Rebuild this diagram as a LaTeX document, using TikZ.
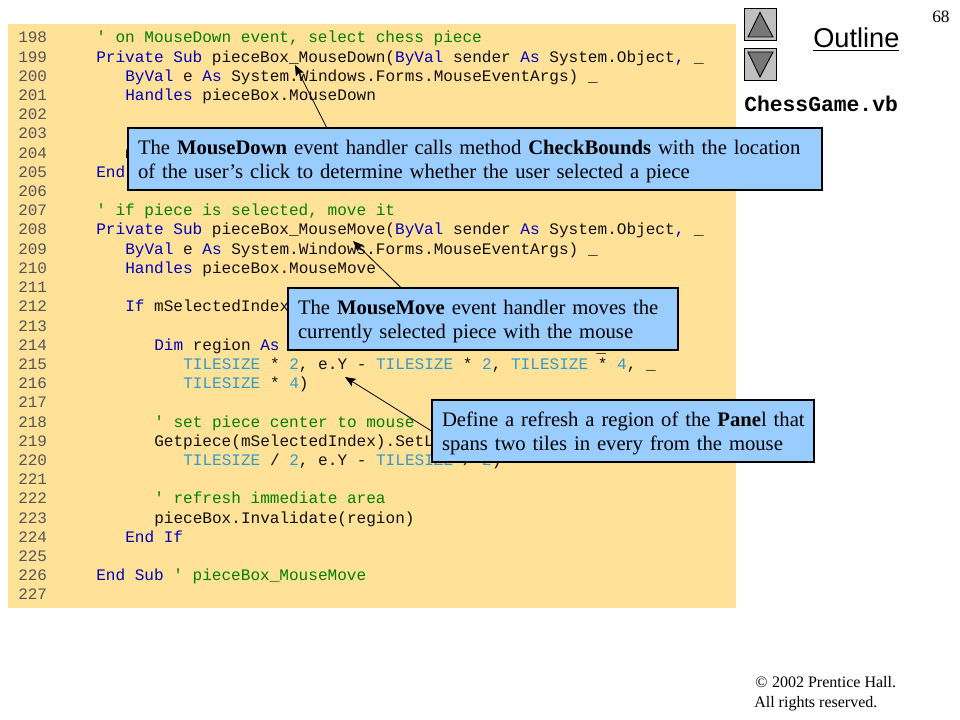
\documentclass[tikz,border=0pt]{standalone}
\usepackage{fontspec}
\setmainfont{Liberation Serif}
\setsansfont{Liberation Sans}
\setmonofont{Liberation Mono}
\usetikzlibrary{arrows.meta}
\definecolor{panel}{HTML}{FFE198}
\definecolor{callfill}{HTML}{99CCFF}
\definecolor{kw}{HTML}{0000BB}
\definecolor{cm}{HTML}{008000}
\definecolor{cn}{HTML}{3399CC}
\definecolor{numc}{HTML}{555555}
\definecolor{plainc}{HTML}{101010}
\definecolor{iconbg}{HTML}{C0C0C0}
\definecolor{icontri}{HTML}{777777}
\newcommand{\K}[1]{\textcolor{kw}{#1}}
\newcommand{\C}[1]{\textcolor{cm}{#1}}
\newcommand{\T}[1]{\textcolor{cn}{#1}}
\newcommand{\firstln}[1]{\mbox{\rule{0pt}{15pt}#1}}
\tikzset{
  x=0.75pt,y=-0.75pt,
  numlab/.style={anchor=base west,inner sep=0pt,text=numc,font=\ttfamily\fontsize{12}{14}\selectfont},
  codelab/.style={anchor=base west,inner sep=0pt,text=plainc,font=\ttfamily\fontsize{12.05}{14}\selectfont},
  callout/.style={draw=black,line width=0.8pt,fill=callfill,inner xsep=7.5pt,inner ysep=0pt,align=left,
    font=\rmfamily\fontsize{15.5}{18}\selectfont,text=black},
  pointer/.style={draw=black,line width=0.6pt,-{Stealth[length=8pt,width=6.5pt,inset=1.5pt]}},
  iconbox/.style={draw=black,line width=0.9pt,fill=iconbg},
  icontr/.style={draw=black,line width=0.7pt,fill=icontri},
  plaintext/.style={anchor=base west,inner sep=0pt,text=black}
}
\begin{document}
\begin{tikzpicture}
\useasboundingbox (0,0) rectangle (960,720);
\fill[panel] (8,24) rectangle (736,608);
% line numbers
\node[numlab] (n198) at (18,43) {198};
\node[numlab] (n199) at (18,62.2) {199};
\node[numlab] (n200) at (18,81.4) {200};
\node[numlab] (n201) at (18,100.6) {201};
\node[numlab] (n202) at (18,119.8) {202};
\node[numlab] (n203) at (18,139) {203};
\node[numlab] (n204) at (18,158.2) {204};
\node[numlab] (n205) at (18,177.4) {205};
\node[numlab] (n206) at (18,196.6) {206};
\node[numlab] (n207) at (18,215.8) {207};
\node[numlab] (n208) at (18,235) {208};
\node[numlab] (n209) at (18,254.2) {209};
\node[numlab] (n210) at (18,273.4) {210};
\node[numlab] (n211) at (18,292.6) {211};
\node[numlab] (n212) at (18,311.8) {212};
\node[numlab] (n213) at (18,331) {213};
\node[numlab] (n214) at (18,350.2) {214};
\node[numlab] (n215) at (18,369.4) {215};
\node[numlab] (n216) at (18,388.6) {216};
\node[numlab] (n217) at (18,407.8) {217};
\node[numlab] (n218) at (18,427) {218};
\node[numlab] (n219) at (18,446.2) {219};
\node[numlab] (n220) at (18,465.4) {220};
\node[numlab] (n221) at (18,484.6) {221};
\node[numlab] (n222) at (18,503.8) {222};
\node[numlab] (n223) at (18,523) {223};
\node[numlab] (n224) at (18,542.2) {224};
\node[numlab] (n225) at (18,561.4) {225};
\node[numlab] (n226) at (18,580.6) {226};
\node[numlab] (n227) at (18,599.8) {227};
% code
\node[codelab] (c198) at (96,43) {\C{' on MouseDown event, select chess piece}};
\node[codelab] (c199) at (96,62.2) {\K{Private Sub} pieceBox\_MouseDown(\K{ByVal} sender \K{As} System.Object\K{,} \_};
\node[codelab] (c200) at (125,81.4) {\K{ByVal} e \K{As} System.Windows.Forms.MouseEventArgs) \_};
\node[codelab] (c201) at (125,100.6) {\K{Handles} pieceBox.MouseDown};
\node[codelab] (c204) at (125,158.2) {m};
\node[codelab] (c205) at (96,177.4) {\K{End}};
\node[codelab] (c207) at (96,215.8) {\C{' if piece is selected, move it}};
\node[codelab] (c208) at (96,235) {\K{Private Sub} pieceBox\_MouseMove(\K{ByVal} sender \K{As} System.Object\K{,} \_};
\node[codelab] (c209) at (125,254.2) {\K{ByVal} e \K{As} System.Windows.Forms.MouseEventArgs) \_};
\node[codelab] (c210) at (125,273.4) {\K{Handles} pieceBox.MouseMove};
\node[codelab] (c212) at (125,311.8) {\K{If} mSelectedIndex};
\node[codelab] (c214) at (154,350.2) {\K{Dim} region \K{As}};
\node[codelab] (c214b) at (596,352) {\_};
\node[codelab] (c215) at (183,369.4) {\T{TILESIZE} * \T{2}, e.Y - \T{TILESIZE} * \T{2}, \T{TILESIZE} * \T{4}, \_};
\node[codelab] (c216) at (183,388.6) {\T{TILESIZE} * \T{4})};
\node[codelab] (c218) at (154,427) {\C{' set piece center to mouse}};
\node[codelab] (c219) at (154,446.2) {Getpiece(mSelectedIndex).SetL};
\node[codelab] (c220) at (183,465.4) {\T{TILESIZE} / \T{2}, e.Y - \T{TILESIZE} / \T{2})};
\node[codelab] (c222) at (154,503.8) {\C{' refresh immediate area}};
\node[codelab] (c223) at (154,523) {pieceBox.Invalidate(region)};
\node[codelab] (c224) at (125,542.2) {\K{End If}};
\node[codelab] (c226) at (96,580.6) {\K{End Sub} \C{' pieceBox\_MouseMove}};
% callouts
\node[callout,minimum width=520.5pt,minimum height=46.5pt,text width=505.5pt] (box1) at (475,159)
  {\firstln{The \textbf{MouseDown} event handler calls method \textbf{CheckBounds} with the location}\\\mbox{of the user’s click to determine whether the user selected a piece}};
\node[callout,minimum width=292.5pt,minimum height=46.5pt,text width=277.5pt] (box2) at (483,319)
  {\firstln{The \textbf{MouseMove} event handler moves the}\\\mbox{currently selected piece with the mouse}};
\node[callout,minimum width=286.5pt,minimum height=46.5pt,text width=271.5pt] (box3) at (623,431)
  {\firstln{Define a refresh a region of the \textbf{Pane}l that}\\\mbox{spans two tiles in every from the mouse}};
% arrows
\coordinate (tip1) at (295,65);
\coordinate (tip2) at (353,241);
\coordinate (tip3) at (345,377);
\draw[pointer] (box1.168.75) -- (tip1);
\draw[pointer] (box2.159.5) -- (tip2);
\draw[pointer] (box3.west) -- (tip3);
% icons
\draw[iconbox] (744.5,8.5) rectangle (776.5,40.5);
\draw[icontr] (760,12.5) -- (773,37) -- (748,37) -- cycle;
\draw[iconbox] (744.5,48.5) rectangle (776.5,80.5);
\draw[icontr] (748,52) -- (773,52) -- (760,77) -- cycle;
% side texts
\node[plaintext,font=\sffamily\fontsize{20.4}{24}\selectfont] (outline) at (813,48) {\underline{Outline}};
\node[plaintext,font=\ttfamily\bfseries\fontsize{16}{18}\selectfont] (fname) at (744,112) {ChessGame.vb};
\node[plaintext,font=\rmfamily\fontsize{13}{15}\selectfont] (pnum) at (932,23) {68};
\node[plaintext,font=\rmfamily\fontsize{12}{14}\selectfont] (copy) at (755,687) {©\hspace{3.5pt}2002 Prentice Hall.};
\node[plaintext,font=\rmfamily\fontsize{12}{14}\selectfont] (rights) at (754,707) {All rights reserved.};
\end{tikzpicture}
\end{document}
